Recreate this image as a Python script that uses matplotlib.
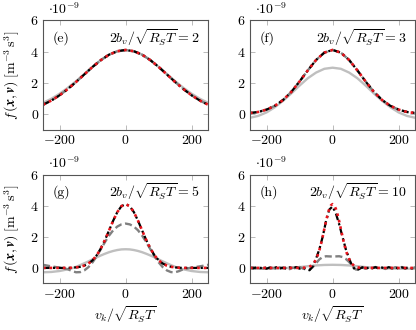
import numpy as np
import matplotlib
matplotlib.use("Agg")
from matplotlib import pyplot as plt

plt.rcParams["font.family"] = "serif"
plt.rcParams["font.serif"] = ["cmr10"]
plt.rcParams["mathtext.fontset"] = "cm"
plt.rcParams["axes.formatter.use_mathtext"] = True
plt.rcParams["font.size"] = 10

# half curves (v >= 0), mirrored when drawn; values in units of 1e-9
x_ef = [0, 25, 50, 75, 100, 125, 150, 175, 200, 225, 250]
e_red = [4.10, 4.02, 3.80, 3.45, 3.02, 2.54, 2.06, 1.61, 1.21, 0.875, 0.61]
e_gray = [4.08, 4.01, 3.80, 3.46, 3.03, 2.57, 2.11, 1.69, 1.31, 0.99, 0.73]

f_red = [4.10, 3.93, 3.46, 2.80, 2.09, 1.43, 0.91, 0.54, 0.30, 0.15, 0.08]
f_gray = [2.97, 2.90, 2.66, 2.30, 1.83, 1.33, 0.86, 0.45, 0.12, -0.10, -0.22]

x_g = [0, 12.5, 25, 37.5, 50, 62.5, 75, 87.5, 100, 112.5, 125, 137.5, 150,
       162.5, 175, 200, 225, 250]
g_red = [4.10, 3.97, 3.59, 3.04, 2.41, 1.79, 1.25, 0.81, 0.49, 0.28, 0.15,
         0.07, 0.035, 0.01, 0.0, 0.0, 0.0, 0.0]
g_dash = [2.85, 2.80, 2.66, 2.42, 2.08, 1.66, 1.20, 0.75, 0.36, 0.05, -0.16,
          -0.27, -0.28, -0.20, -0.08, 0.02, 0.10, 0.20]
g_gray = [1.20, 1.19, 1.15, 1.09, 1.01, 0.91, 0.80, 0.68, 0.55, 0.42, 0.30,
          0.18, 0.07, -0.02, -0.09, -0.20, -0.26, -0.28]

x_h = [0, 5, 10, 15, 20, 25, 30, 35, 40, 45, 50, 55, 60, 65, 70, 75, 80,
       100, 150, 200, 250]
h_red = [4.10, 4.02, 3.79, 3.43, 2.99, 2.50, 2.01, 1.55, 1.15, 0.82, 0.57,
         0.37, 0.24, 0.14, 0.085, 0.04, 0.02, 0.0, 0.0, 0.0, 0.0]
x_h_gray = [0, 25, 50, 75, 100, 125, 150, 175, 200, 225, 250]
h_gray = [0.20, 0.19, 0.16, 0.11, 0.05, 0.01, -0.02, -0.04, -0.05, -0.05, -0.05]

# noisy full curves for panel (h), v = -250 ... 250 step 10
x_h_full = list(range(-250, 251, 10))
h_black = [0.02, -0.03, 0.04, -0.02, 0.01, -0.05, 0.03, -0.02, 0.05, -0.04,
           0.02, -0.06, 0.04, -0.03, 0.06, -0.05, 0.03,
           -0.08, -0.15, 0.10, 0.60, 1.20, 2.00, 3.00, 3.75, 3.95, 3.50, 2.80,
           2.00, 1.20, 0.60, 0.10, -0.15, -0.08,
           0.04, -0.05, 0.03, -0.02, 0.05, -0.04, 0.02, -0.03, 0.05, -0.02,
           0.04, -0.05, 0.03, -0.02, 0.04, -0.03, 0.02]
h_dash = [-0.03, 0.05, -0.06, 0.02, -0.04, 0.06, -0.05, 0.01, -0.07, 0.04,
          -0.03, 0.05, -0.08, 0.02, -0.05, 0.06, -0.04,
          -0.10, -0.12, 0.05, 0.30, 0.55, 0.70, 0.75, 0.74, 0.73, 0.74, 0.75,
          0.70, 0.58, 0.38, 0.12, -0.10, -0.12,
          0.03, -0.06, 0.04, -0.02, 0.06, -0.05, 0.02, -0.07, 0.03, -0.04,
          0.05, -0.03, 0.06, -0.05, 0.02, -0.04, 0.05]

labels = ["(e)", "(f)", "(g)", "(h)"]
ratios = ["2", "3", "5", "10"]


def mirror(x, y):
    x = np.asarray(x, float)
    y = np.asarray(y, float)
    return np.concatenate([-x[:0:-1], x]), np.concatenate([y[:0:-1], y])


GRAY = "#bfbfbf"
DGRAY = "#808080"
RED = "#e8141c"

panels = [
    dict(gray=mirror(x_ef, e_gray), dash=mirror(x_ef, e_red),
         black=mirror(x_ef, e_red), red=mirror(x_ef, e_red)),
    dict(gray=mirror(x_ef, f_gray), dash=mirror(x_ef, f_red),
         black=mirror(x_ef, f_red), red=mirror(x_ef, f_red)),
    dict(gray=mirror(x_g, g_gray), dash=mirror(x_g, g_dash),
         black=mirror(x_g, g_red), red=mirror(x_g, g_red)),
    dict(gray=mirror(x_h_gray, h_gray), dash=(x_h_full, h_dash),
         black=(x_h_full, h_black), red=mirror(x_h, h_red)),
]

fig = plt.figure(figsize=(4.16, 3.30), dpi=100)
rects = [[0.1034, 0.606, 0.397, 0.333], [0.601, 0.606, 0.397, 0.333],
         [0.1034, 0.141, 0.397, 0.330], [0.601, 0.141, 0.397, 0.330]]

for i, p in enumerate(panels):
    ax = fig.add_axes(rects[i])
    ax.plot(*p["gray"], color=GRAY, lw=1.7, solid_capstyle="butt")
    ax.plot(*p["dash"], color=DGRAY, lw=1.7, ls=(0, (3, 1.5)))
    ax.plot(*p["black"], color="black", lw=1.6, ls=(0, (3, 1.5, 1, 1.5)))
    ax.plot(*p["red"], color=RED, lw=1.9, ls=(0, (1, 1.5)))
    ax.set_xlim(-250, 250)
    ax.set_ylim(-1, 6)
    ax.set_xticks([-200, 0, 200])
    ax.set_yticks([0, 2, 4, 6])
    ax.tick_params(direction="in", top=True, right=True, length=3.5,
                   width=0.6, color="#b0b0b0", labelsize=10, pad=3)
    for s in ax.spines.values():
        s.set_color("#555555")
        s.set_linewidth(0.8)
    ax.text(0.06, 0.84, labels[i], transform=ax.transAxes, fontsize=10,
            va="center", ha="left")
    ax.text(0.95, 0.84, r"$2b_v/\sqrt{R_S T} = %s$" % ratios[i],
            transform=ax.transAxes, fontsize=10, va="center", ha="right")
    ax.text(0.03, 1.03, r"$\cdot 10^{-9}$", transform=ax.transAxes,
            fontsize=10, va="bottom", ha="left")
    if i % 2 == 0:
        ax.set_ylabel(r"$f\,(\boldsymbol{x},\boldsymbol{v})\;[\mathrm{m}^{-3}\,\mathrm{s}^{3}]$",
                      fontsize=10)
        ax.yaxis.set_label_coords(-0.13, 0.5)
    if i >= 2:
        ax.set_xlabel(r"$v_k/\sqrt{R_S T}$", fontsize=10)
        ax.xaxis.set_label_coords(0.5, -0.19)

fig.savefig("out.png", dpi=100)
